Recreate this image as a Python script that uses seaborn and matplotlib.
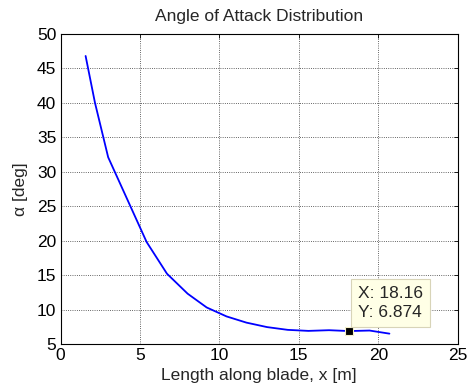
import matplotlib
matplotlib.use("Agg")
import matplotlib.pyplot as plt
import seaborn as sns
import pandas as pd

# Spanwise position along the blade [m] and local angle of attack [deg]
blade_x = [1.58, 2.17, 3.0, 5.42, 6.7, 8.0, 9.2, 10.45, 11.7, 13.0, 14.3,
           15.6, 16.9, 18.16, 19.45, 20.7]
alpha_deg = [46.8, 40.0, 32.1, 19.8, 15.2, 12.3, 10.3, 9.0, 8.1, 7.45, 7.05,
             6.9, 7.0, 6.874, 6.95, 6.5]

# Highlighted station
tip_x = 18.16
tip_y = 6.874

x_ticks = [0, 5, 10, 15, 20, 25]
y_ticks = [5, 10, 15, 20, 25, 30, 35, 40, 45, 50]

title_text = "Angle of Attack Distribution"
x_label = "Length along blade, x [m]"
y_label = "\u03b1 [deg]"

FS = 12.5

sns.set_style("white")
plt.rcParams["font.family"] = ["Liberation Sans", "DejaVu Sans"]
plt.rcParams["font.size"] = FS

df = pd.DataFrame({"x": blade_x, "alpha": alpha_deg})

fig = plt.figure(figsize=(4.69, 3.90), dpi=100)
ax = fig.add_axes([0.129, 0.118, 0.847, 0.795])

sns.lineplot(data=df, x="x", y="alpha", ax=ax, color="#0000FF",
             linewidth=1.3, sort=False, estimator=None)

ax.set_xlim(0, 25)
ax.set_ylim(5, 50)
ax.set_xticks(x_ticks)
ax.set_yticks(y_ticks)
ax.set_xticklabels([str(v) for v in x_ticks])
ax.set_yticklabels([str(v) for v in y_ticks])

ax.grid(True, color="#333333", linestyle=":", linewidth=0.6)
ax.tick_params(direction="in", length=3, width=0.6, top=True, right=True,
               labelsize=FS, colors="black", pad=3)
for side in ax.spines.values():
    side.set_color("black")
    side.set_linewidth(0.8)

ax.set_title(title_text, fontsize=FS, pad=9.5)
ax.set_xlabel(x_label, fontsize=FS, labelpad=3.5)
ax.set_ylabel(y_label, fontsize=FS, labelpad=6.5)

# Data cursor at the selected station
ax.plot([tip_x], [tip_y], marker="s", markersize=6, color="black",
        markeredgecolor="#F5F0C8", markeredgewidth=0.8, zorder=5)
ax.annotate(f"X: {tip_x}\nY: {tip_y}", xy=(tip_x, tip_y),
            xytext=(9, 11), textcoords="offset pixels",
            ha="left", va="bottom", fontsize=FS, linespacing=1.35,
            bbox=dict(boxstyle="square,pad=0.4", facecolor="#FFFFE6",
                      edgecolor="#D8D4B8", linewidth=0.8), zorder=6)

fig.savefig("out.png", dpi=100)
